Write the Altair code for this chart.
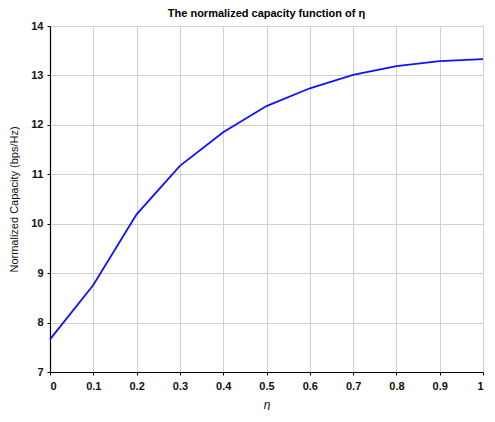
import altair as alt
import pandas as pd

eta = [0.0, 0.1, 0.2, 0.3, 0.4, 0.5, 0.6, 0.7, 0.8, 0.9, 1.0]
capacity = [7.66, 8.76, 10.19, 11.17, 11.85, 12.38, 12.74, 13.01, 13.19, 13.29, 13.33]
x_ticks = [0, 0.1, 0.2, 0.3, 0.4, 0.5, 0.6, 0.7, 0.8, 0.9, 1]
y_ticks = [7, 8, 9, 10, 11, 12, 13, 14]

df = pd.DataFrame({"eta": eta, "cap": capacity})
FONT = "Liberation Sans"

x_enc = alt.X("eta:Q", scale=alt.Scale(domain=[0, 1], nice=False),
              axis=alt.Axis(values=x_ticks, title="η",
                            labelExpr="datum.value == 0 ? '0' : datum.value == 1 ? '1' : format(datum.value, '.1f')",
                            grid=True, gridColor="#d0d0d0", gridWidth=1,
                            domainColor="#000", domainWidth=1.2,
                            tickColor="#000", tickSize=3,
                            labelFont=FONT, labelFontSize=11, labelFontWeight="bold",
                            labelColor="#111", labelPadding=5,
                            titleFont=FONT, titleFontSize=12, titleFontStyle="italic",
                            titleFontWeight="normal", titleColor="#111", titlePadding=8))
y_enc = alt.Y("cap:Q", scale=alt.Scale(domain=[7, 14], nice=False),
              axis=alt.Axis(values=y_ticks, title="Normalized Capacity (bps/Hz)",
                            grid=True, gridColor="#d0d0d0", gridWidth=1,
                            domainColor="#000", domainWidth=1.2,
                            tickColor="#000", tickSize=3,
                            labelFont=FONT, labelFontSize=11, labelFontWeight="bold",
                            labelColor="#111", labelPadding=4,
                            titleFont=FONT, titleFontSize=11, titleFontWeight="normal",
                            titleColor="#111", titlePadding=11))

line = alt.Chart(df).mark_line(color="#1010ff", strokeWidth=1.8).encode(x=x_enc, y=y_enc)

chart = line.properties(
    width=433, height=346,
    title=alt.TitleParams("The normalized capacity function of η", font=FONT,
                          fontSize=11, fontWeight="bold", color="#000", offset=1),
    padding={"left": 0, "top": 0, "right": 0, "bottom": 0},
).configure_view(stroke=None).configure(background="white")

chart.save("out.html", embed_options={"renderer": "svg", "actions": False})
